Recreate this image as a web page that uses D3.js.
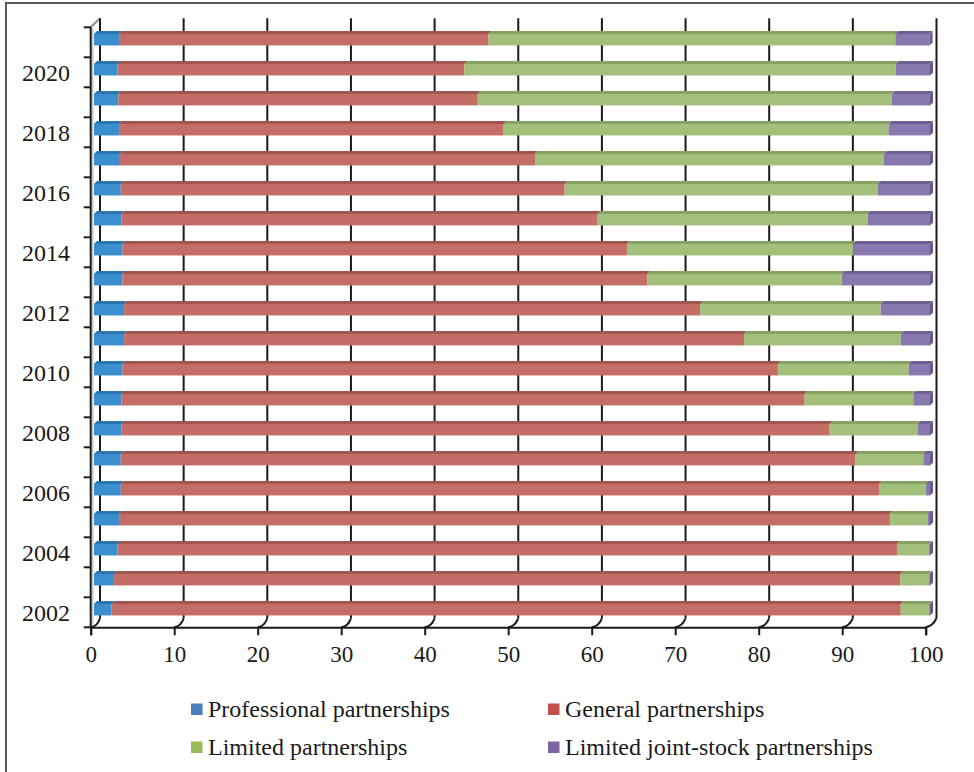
<!DOCTYPE html>
<html>
<head>
<meta charset="utf-8">
<script src="https://cdn.jsdelivr.net/npm/d3@7"></script>
<style>
  html, body { margin: 0; padding: 0; background: #fff; }
  svg { display: block; }
  text { font-family: "Liberation Serif", "Times New Roman", serif; fill: #1a1a1a; }
</style>
</head>
<body>
<svg id="chart" width="974" height="772"></svg>
<script>
// ---------------- data ----------------
const years = [2021, 2020, 2019, 2018, 2017, 2016, 2015, 2014, 2013, 2012,
               2011, 2010, 2009, 2008, 2007, 2006, 2005, 2004, 2003, 2002];
const seriesNames = ["Professional partnerships", "General partnerships",
                     "Limited partnerships", "Limited joint-stock partnerships"];
const professional = [3.0, 2.8, 2.9, 3.0, 3.1, 3.2, 3.3, 3.4, 3.4, 3.6,
                      3.6, 3.4, 3.3, 3.3, 3.2, 3.2, 3.0, 2.8, 2.4, 2.1];
const general      = [44.2, 41.5, 43.0, 46.0, 49.65, 53.1, 56.95, 60.35, 62.8, 68.9,
                      74.15, 78.4, 81.7, 84.7, 87.9, 90.7, 92.2, 93.25, 94.05, 94.4];
const limited      = [48.65, 51.6, 49.55, 46.05, 41.75, 37.45, 32.3, 27.05, 23.25, 21.6,
                      18.75, 15.65, 13.0, 10.5, 8.1, 5.6, 4.5, 3.85, 3.45, 3.4];
const jointStock   = [4.1, 4.1, 4.55, 4.95, 5.5, 6.25, 7.45, 9.2, 10.55, 5.9,
                      3.5, 2.55, 2.0, 1.5, 0.8, 0.5, 0.3, 0.1, 0.1, 0.1];
const labelYears = [2020, 2018, 2016, 2014, 2012, 2010, 2008, 2006, 2004, 2002];
const xTicks = [0, 10, 20, 30, 40, 50, 60, 70, 80, 90, 100];

const frontColors = ["#3b8fcf", "#c46d66", "#a2bf7b", "#8779ae"];
const topColors   = ["#2d75ae", "#a05650", "#86a260", "#6c5f93"];
const legendColors = ["#4a7ebb", "#c0504d", "#9bbb59", "#8064a2"];

// ---------------- layout ----------------
const svg = d3.select("#chart");
const floorY = 627.3, backFloorY = 618.3, topY = 18.3;
const xFront = d3.scaleLinear().domain([0, 100]).range([90.7, 925.7]);
const xBack  = d3.scaleLinear().domain([0, 100]).range([100, 936.5]);
const xBar   = d3.scaleLinear().domain([0, 100]).range([94, 930]);
const yBand  = d3.scaleBand().domain(years).range([27.3, 627.3])
                 .paddingInner(0.617).paddingOuter(0.3085);
const yLabel = d3.scaleBand().domain(years).range([27.3, 627.3]);
const barShiftY = -2.6, depth = 3;

// outer border
svg.append("rect").attr("x", 6).attr("y", 3).attr("width", 990).attr("height", 800)
  .attr("fill", "none").attr("stroke", "#5a5a5a").attr("stroke-width", 2);

// left wall top diagonal (gray)
svg.append("line").attr("x1", xFront(0)).attr("y1", 27.3).attr("x2", xBack(0)).attr("y2", topY)
  .attr("stroke", "#8c8c8c").attr("stroke-width", 2);
svg.append("line").attr("x1", xFront(0) + 2).attr("y1", 28).attr("x2", xFront(0) + 2).attr("y2", floorY - 1)
  .attr("stroke", "#c8c8c8").attr("stroke-width", 1.5);

// back wall gridlines
svg.append("g").selectAll("line").data(xTicks).join("line")
  .attr("x1", d => xBack(d)).attr("x2", d => xBack(d))
  .attr("y1", topY).attr("y2", backFloorY)
  .attr("stroke", "#1a1a1a").attr("stroke-width", 2);

// floor depth lines
svg.append("g").selectAll("path").data(xTicks).join("path")
  .attr("d", d => `M${xFront(d)},${floorY} Q${xFront(d) + 7},${floorY - 1} ${xBack(d)},${backFloorY}`)
  .attr("fill", "none").attr("stroke", "#1a1a1a").attr("stroke-width", 2);

// bars
const seriesVals = [professional, general, limited, jointStock];
const stackData = years.map((y, i) => {
  let acc = 0;
  return seriesVals.map((s, k) => { const a = acc; acc += s[i]; return {year: y, k, x0: a, x1: acc}; });
});
const barG = svg.append("g");
stackData.forEach(segs => {
  const g = barG.append("g");
  segs.forEach(s => {
    const y0 = yBand(s.year) + barShiftY, h = yBand.bandwidth();
    const xa = xBar(s.x0), xb = xBar(s.x1);
    // top face
    g.append("path")
      .attr("d", `M${xa},${y0} L${xa + depth},${y0 - depth} L${xb + depth},${y0 - depth} L${xb},${y0} Z`)
      .attr("fill", topColors[s.k]);
    // front face
    g.append("rect").attr("x", xa).attr("y", y0).attr("width", Math.max(0, xb - xa)).attr("height", h)
      .attr("fill", frontColors[s.k]);
  });
  const last = segs[segs.length - 1];
  const y0 = yBand(last.year) + barShiftY, h = yBand.bandwidth(), xe = xBar(last.x1);
  g.append("path")
    .attr("d", `M${xe},${y0} L${xe + depth},${y0 - depth} L${xe + depth},${y0 + h - depth} L${xe},${y0 + h} Z`)
    .attr("fill", "#675b8d");
});

// y axis (front left)
svg.append("line").attr("x1", xFront(0)).attr("x2", xFront(0)).attr("y1", 27.3).attr("y2", floorY)
  .attr("stroke", "#1a1a1a").attr("stroke-width", 2);
const yTickPos = years.map(y => yLabel(y)).concat([floorY]);
svg.append("g").selectAll("line").data(yTickPos).join("line")
  .attr("x1", xFront(0) - 7).attr("x2", xFront(0)).attr("y1", d => d).attr("y2", d => d)
  .attr("stroke", "#1a1a1a").attr("stroke-width", 2);
svg.append("g").selectAll("text").data(labelYears).join("text")
  .attr("x", 70).attr("y", d => yLabel(d) + yLabel.bandwidth() / 2)
  .attr("dy", "0.35em").attr("text-anchor", "end").attr("font-size", 24)
  .text(d => d);

// x axis (front)
const xAxis = d3.axisBottom(xFront).tickValues(xTicks).tickSize(8).tickPadding(10).tickFormat(d3.format("d"));
const xg = svg.append("g").attr("transform", `translate(0,${floorY})`).call(xAxis);
xg.select(".domain").attr("stroke", "#1a1a1a").attr("stroke-width", 2);
xg.selectAll(".tick line").attr("stroke", "#1a1a1a").attr("stroke-width", 2);
xg.selectAll(".tick text").attr("font-size", 23).attr("fill", "#1a1a1a")
  .attr("font-family", "Liberation Serif, Times New Roman, serif");

// legend
const legendPos = [[191, 709], [548, 709], [191, 747], [548, 747]];
const lg = svg.append("g");
seriesNames.forEach((n, i) => {
  const [lx, ly] = legendPos[i];
  lg.append("rect").attr("x", lx).attr("y", ly - 5.5).attr("width", 11.5).attr("height", 11.5)
    .attr("fill", legendColors[i]);
  lg.append("text").attr("x", lx + 17).attr("y", ly).attr("dy", "0.33em")
    .attr("font-size", 24).text(n);
});
</script>
</body>
</html>
